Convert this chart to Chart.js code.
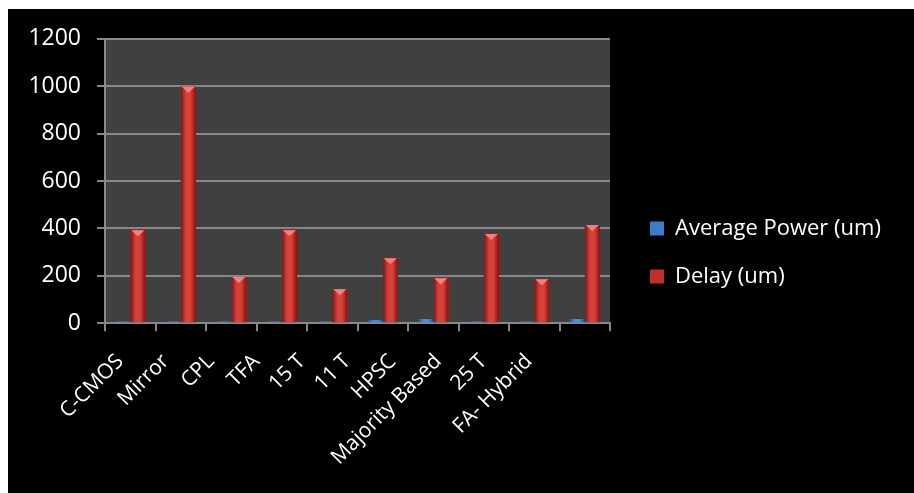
<!DOCTYPE html>
<html>
<head>
<meta charset="utf-8">
<script src="https://cdn.jsdelivr.net/npm/chart.js@4"></script>
<style>
    html, body { margin: 0; padding: 0; background: #ffffff; }
    #wrap {
        position: absolute;
        left: 8px;
        top: 9px;
        width: 906px;
        height: 484px;
        background: #000000;
    }
</style>
</head>
<body>
<div id="wrap"><canvas id="adder-chart"></canvas></div>
<script>
const categories = ['C-CMOS', 'Mirror', 'CPL', 'TFA', '15 T', '11 T', 'HPSC', 'Majority Based', '25 T', 'FA- Hybrid'];
const averagePower = [6, 6, 6, 6, 6, 12, 17, 6, 6, 17];
const delay = [392, 998, 195, 392, 143, 274, 189, 376, 185, 414];
const yTicks = [0, 200, 400, 600, 800, 1000, 1200];

const FONT = '"Open Sans", sans-serif';
const LEGEND_WIDTH = 304;
const LEGEND_SHIFT = 14;
const LEGEND_LIFT = 7;
const Y_AXIS_WIDTH = 78;
// category labels sit a little tighter than the categories themselves
const LABEL_NUDGE = -10;
const LABEL_STEP = -5.1;

// dark plot area behind the bars
const plotBackground = {
    id: 'plotBackground',
    beforeDraw(chart) {
        const { ctx, chartArea: a } = chart;
        ctx.save();
        ctx.fillStyle = '#404040';
        ctx.fillRect(a.left, a.top, a.right - a.left, a.bottom - a.top);
        ctx.restore();
    }
};

// pull the rotated category labels together
const labelSpacing = {
    id: 'labelSpacing',
    beforeDraw(chart) {
        const items = chart.scales.x.getLabelItems(chart.chartArea);
        if (!items || items._spaced) return;
        items.forEach((item, i) => {
            item.options.translation[0] += LABEL_NUDGE + LABEL_STEP * i;
        });
        items._spaced = true;
    }
};

// fixed-width legend column on the right, items pushed away from the plot
const legendColumn = {
    id: 'legendColumn',
    beforeLayout(chart) {
        const lg = chart.legend;
        if (!lg || lg._fixedFit) return;
        const fit = lg.fit.bind(lg);
        lg.fit = () => {
            fit();
            lg.width = LEGEND_WIDTH;
        };
        lg._fixedFit = true;
    },
    afterLayout(chart) {
        const lg = chart.legend;
        if (!lg) return;
        lg.left += LEGEND_SHIFT;
        lg.right += LEGEND_SHIFT;
        lg.top -= LEGEND_LIFT;
        lg.bottom -= LEGEND_LIFT;
    }
};

// shaded columns with a bevelled top, drawn from each bar element
const bevelBars = {
    id: 'bevelBars',
    afterDatasetsDraw(chart) {
        const ctx = chart.ctx;
        const shades = [
            { dark: '#1f4f8f', mid: '#4a8ee0', tip: '#8cc0ff' },
            { dark: '#7a1414', mid: '#d8403a', tip: '#f58080' }
        ];
        chart.data.datasets.forEach((ds, di) => {
            const meta = chart.getDatasetMeta(di);
            const s = shades[di];
            meta.data.forEach(bar => {
                const left = bar.x - bar.width / 2;
                const right = bar.x + bar.width / 2;
                const top = bar.y;
                const bottom = bar.base;
                const h = bottom - top;
                if (h <= 0) return;
                const g = ctx.createLinearGradient(left, 0, right, 0);
                g.addColorStop(0, s.dark);
                g.addColorStop(0.35, s.mid);
                g.addColorStop(0.65, s.mid);
                g.addColorStop(1, s.dark);
                ctx.save();
                ctx.fillStyle = g;
                ctx.fillRect(left, top, right - left, h);
                if (h > 6) {
                    const tip = Math.min(bar.width * 0.4, h);
                    ctx.beginPath();
                    ctx.moveTo(left + 1, top);
                    ctx.lineTo(right - 1, top);
                    ctx.lineTo(bar.x, top + tip);
                    ctx.closePath();
                    ctx.fillStyle = s.tip;
                    ctx.fill();
                }
                ctx.restore();
            });
        });
    }
};

new Chart(document.getElementById('adder-chart'), {
    type: 'bar',
    data: {
        labels: categories,
        datasets: [
            {
                label: 'Average Power (um)',
                data: averagePower,
                backgroundColor: '#3d7ccc',
                categoryPercentage: 0.6,
                barPercentage: 1.0
            },
            {
                label: 'Delay (um)',
                data: delay,
                backgroundColor: '#c0302b',
                categoryPercentage: 0.6,
                barPercentage: 1.0
            }
        ]
    },
    options: {
        responsive: true,
        maintainAspectRatio: false,
        animation: false,
        layout: {
            padding: { top: 22, left: 19, right: 0, bottom: 5 }
        },
        plugins: {
            legend: {
                position: 'right',
                labels: {
                    color: '#ffffff',
                    font: { family: FONT, size: 22 },
                    boxWidth: 14,
                    boxHeight: 14,
                    padding: 26
                }
            },
            title: { display: false },
            tooltip: { enabled: false }
        },
        scales: {
            x: {
                afterFit: scale => {
                    // rotated labels may hang past the plot edge; don't shrink the plot for them
                    scale.paddingLeft = 0;
                    scale.paddingRight = 0;
                },
                grid: {
                    drawOnChartArea: false,
                    drawTicks: true,
                    tickLength: 8,
                    color: '#888888',
                    lineWidth: 2,
                    offset: true
                },
                border: { color: '#888888', width: 2 },
                ticks: {
                    color: '#ffffff',
                    font: { family: FONT, size: 21 },
                    minRotation: 45,
                    maxRotation: 45,
                    padding: 18
                }
            },
            y: {
                min: 0,
                max: 1200,
                afterBuildTicks: axis => {
                    axis.ticks = yTicks.map(v => ({ value: v }));
                },
                afterFit: scale => {
                    scale.width = Y_AXIS_WIDTH;
                },
                grid: {
                    color: '#888888',
                    lineWidth: 2,
                    tickLength: 8
                },
                border: { color: '#888888', width: 2 },
                ticks: {
                    color: '#ffffff',
                    font: { family: FONT, size: 23 },
                    padding: 16,
                    callback: v => String(v)
                }
            }
        }
    },
    plugins: [plotBackground, labelSpacing, legendColumn, bevelBars]
});
</script>
</body>
</html>
